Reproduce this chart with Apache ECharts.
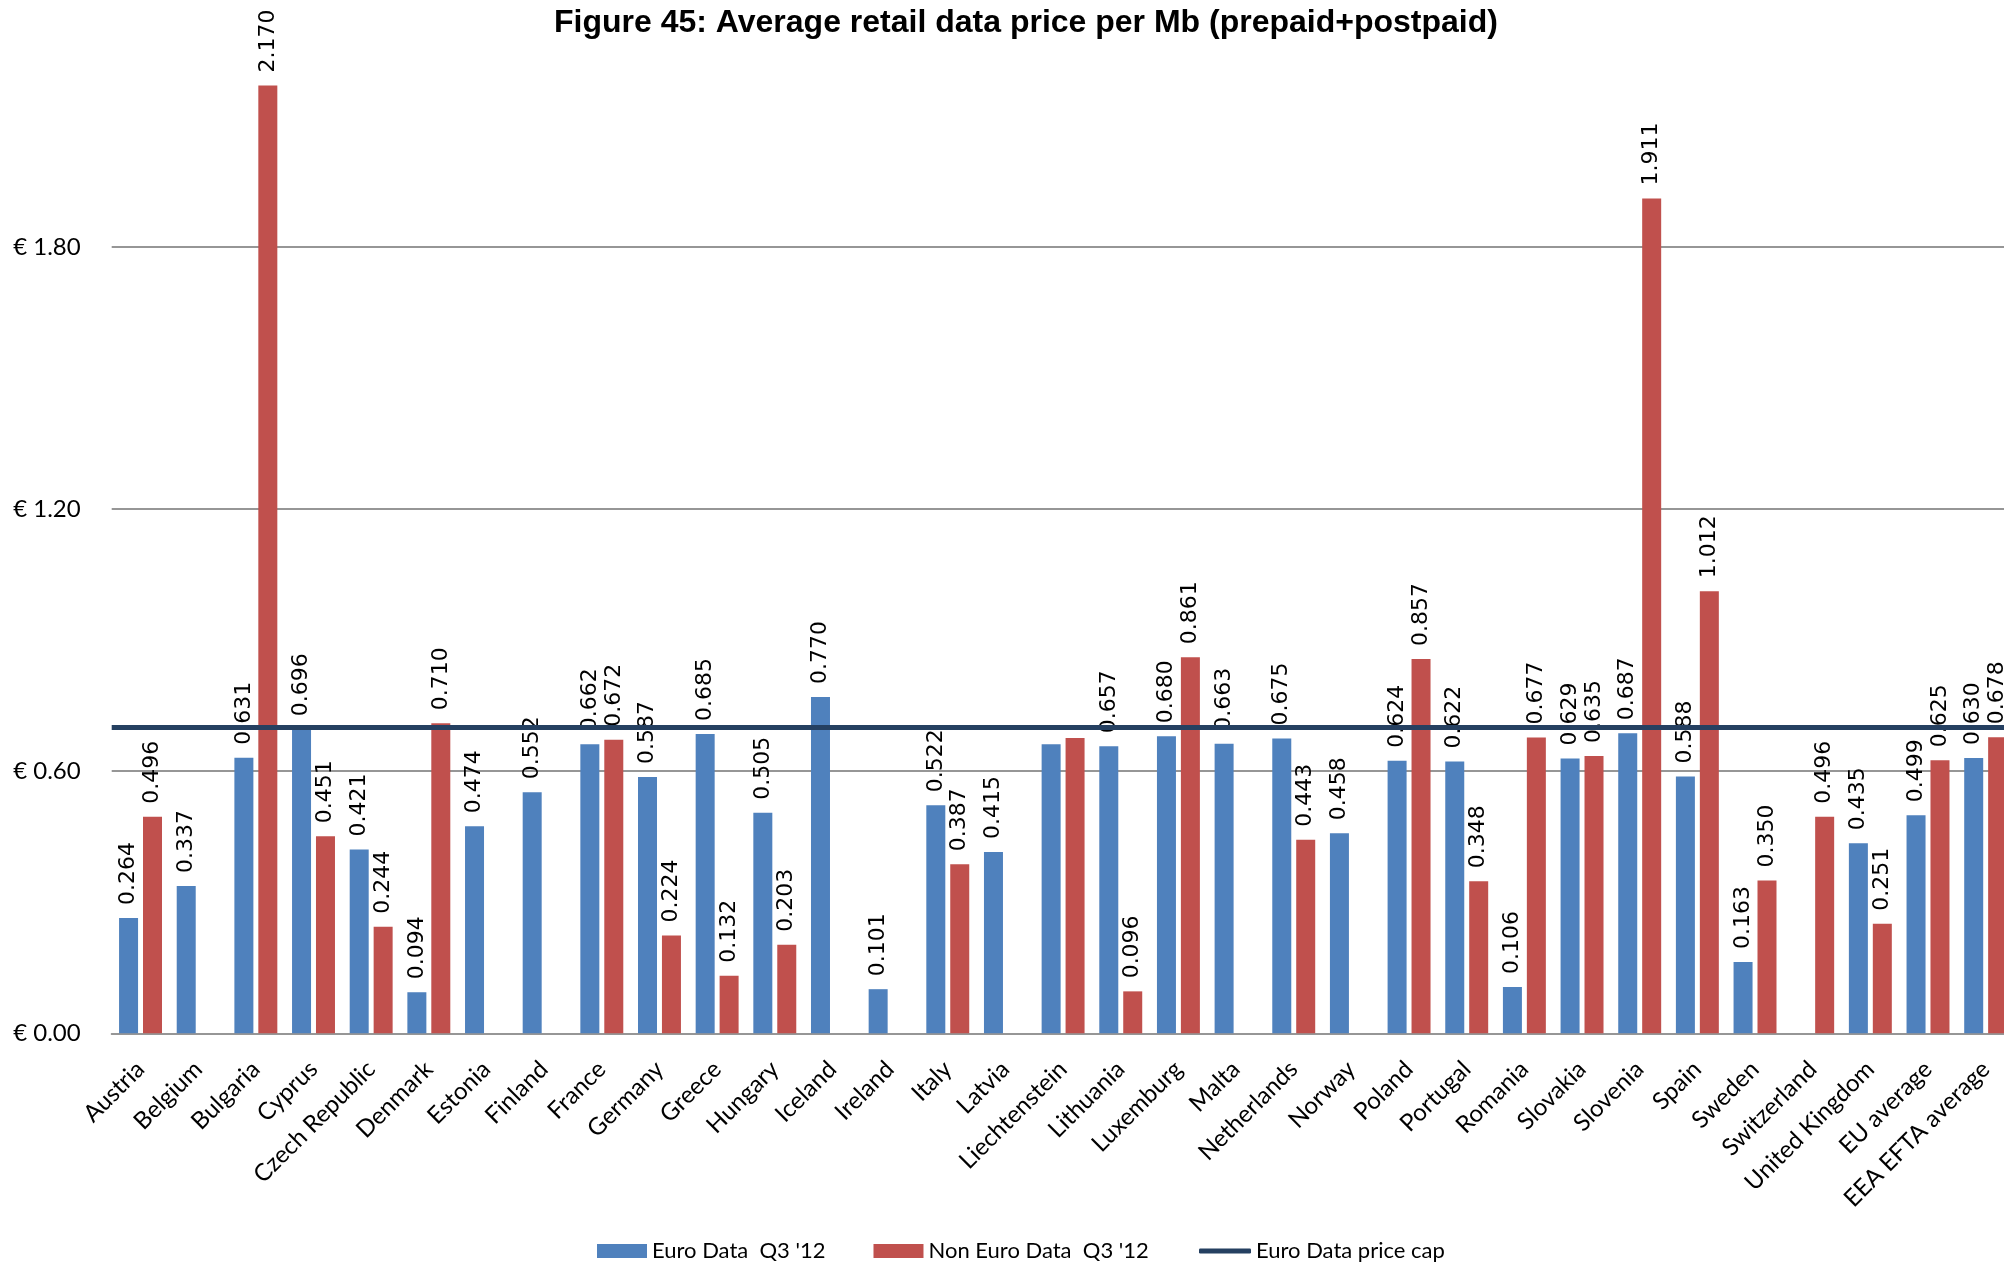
<!DOCTYPE html>
<html>
<head>
<meta charset="utf-8">
<script src="https://cdn.jsdelivr.net/npm/echarts@6/dist/echarts.min.js"></script>
<style>
  html, body { margin: 0; padding: 0; background: #fff; overflow: hidden; width: 2004px; height: 1263px; }
  #chart { position: absolute; left: 0; top: -15px; width: 2015px; height: 1278px; }
</style>
</head>
<body>
<div id="chart"></div>
<script>
const titleText = 'Figure 45: Average retail data price per Mb (prepaid+postpaid)';
const categories = ['Austria','Belgium','Bulgaria','Cyprus','Czech Republic','Denmark','Estonia','Finland','France','Germany','Greece','Hungary','Iceland','Ireland','Italy','Latvia','Liechtenstein','Lithuania','Luxemburg','Malta','Netherlands','Norway','Poland','Portugal','Romania','Slovakia','Slovenia','Spain','Sweden','Switzerland','United Kingdom','EU average','EEA EFTA average'];
const euroName = "Euro Data  Q3 '12";
const nonEuroName = "Non Euro Data  Q3 '12";
const capName = 'Euro Data price cap';
const euroData = [0.264,0.337,0.631,0.696,0.421,0.094,0.474,0.552,0.662,0.587,0.685,0.505,0.770,0.101,0.522,0.415,0.662,0.657,0.680,0.663,0.675,0.458,0.624,0.622,0.106,0.629,0.687,0.588,0.163,null,0.435,0.499,0.630];
const nonEuroData = [0.496,null,2.170,0.451,0.244,0.710,null,null,0.672,0.224,0.132,0.203,null,null,0.387,null,0.676,0.096,0.861,null,0.443,null,0.857,0.348,0.677,0.635,1.911,1.012,0.350,0.496,0.251,0.625,0.678];
const capValue = 0.70;
const yTicks = [0, 0.60, 1.20, 1.80, 2.40];
const unlabeledCategories = ['Liechtenstein'];

function toItems(arr) {
  return arr.map((v, i) => unlabeledCategories.includes(categories[i])
    ? { value: v, label: { show: false } }
    : v);
}

const barLabel = {
  show: true,
  position: 'top',
  rotate: 90,
  align: 'left',
  verticalAlign: 'middle',
  distance: 13,
  fontFamily: 'DejaVu Sans',
  fontSize: 22,
  color: '#000',
  formatter: p => (p.value == null ? '' : Number(p.value).toFixed(3))
};

const legendText = { fontFamily: 'Lato', fontSize: 22, color: '#000' };

const chart = echarts.init(document.getElementById('chart'), null, { renderer: 'canvas' });
chart.setOption({
  animation: false,
  backgroundColor: '#fff',
  title: {
    text: titleText,
    left: 549,
    top: 17,
    textStyle: { fontFamily: 'Liberation Sans', fontWeight: 'bold', fontSize: 32, color: '#000' }
  },
  legend: [
    {
      left: 597,
      top: 1255,
      padding: 0,
      itemWidth: 50,
      itemHeight: 14,
      itemGap: 48,
      textStyle: legendText,
      data: [
        { name: euroName, icon: 'rect' },
        { name: nonEuroName, icon: 'rect' }
      ]
    },
    {
      left: 1199,
      top: 1255,
      padding: 0,
      itemWidth: 52,
      itemHeight: 5,
      textStyle: legendText,
      data: [{ name: capName, icon: 'roundRect' }]
    }
  ],
  grid: { left: 111.7, right: 0.5, top: 0, bottom: 229.7, containLabel: false, outerBoundsMode: 'none' },
  xAxis: {
    type: 'category',
    data: categories,
    axisTick: { show: false },
    axisLine: { lineStyle: { color: '#969696', width: 2 } },
    axisLabel: {
      interval: 0,
      rotate: 45,
      margin: 32,
      verticalAlign: 'middle',
      fontFamily: 'Lato',
      fontSize: 24,
      color: '#000'
    }
  },
  yAxis: {
    type: 'value',
    min: yTicks[0],
    max: yTicks[yTicks.length - 1],
    interval: yTicks[1] - yTicks[0],
    axisLine: { show: false },
    axisTick: { show: false },
    splitLine: { lineStyle: { color: '#969696', width: 2 } },
    axisLabel: {
      margin: 31,
      showMaxLabel: false,
      fontFamily: 'Lato',
      fontSize: 24,
      color: '#000',
      formatter: v => '€ ' + v.toFixed(2)
    }
  },
  series: [
    {
      name: euroName,
      type: 'bar',
      data: toItems(euroData),
      barWidth: 19,
      barGap: '26%',
      itemStyle: { color: '#4F81BD' },
      label: barLabel
    },
    {
      name: nonEuroName,
      type: 'bar',
      data: toItems(nonEuroData),
      barWidth: 19,
      barGap: '26%',
      itemStyle: { color: '#C0504D' },
      label: barLabel
    },
    {
      name: capName,
      type: 'line',
      data: [],
      symbol: 'none',
      z: 5,
      itemStyle: { color: '#254061' },
      lineStyle: { color: '#254061', width: 5 },
      markLine: {
        silent: true,
        symbol: 'none',
        label: { show: false },
        lineStyle: { color: '#254061', width: 5, type: 'solid' },
        data: [{ yAxis: capValue }]
      }
    }
  ]
});
</script>
</body>
</html>
